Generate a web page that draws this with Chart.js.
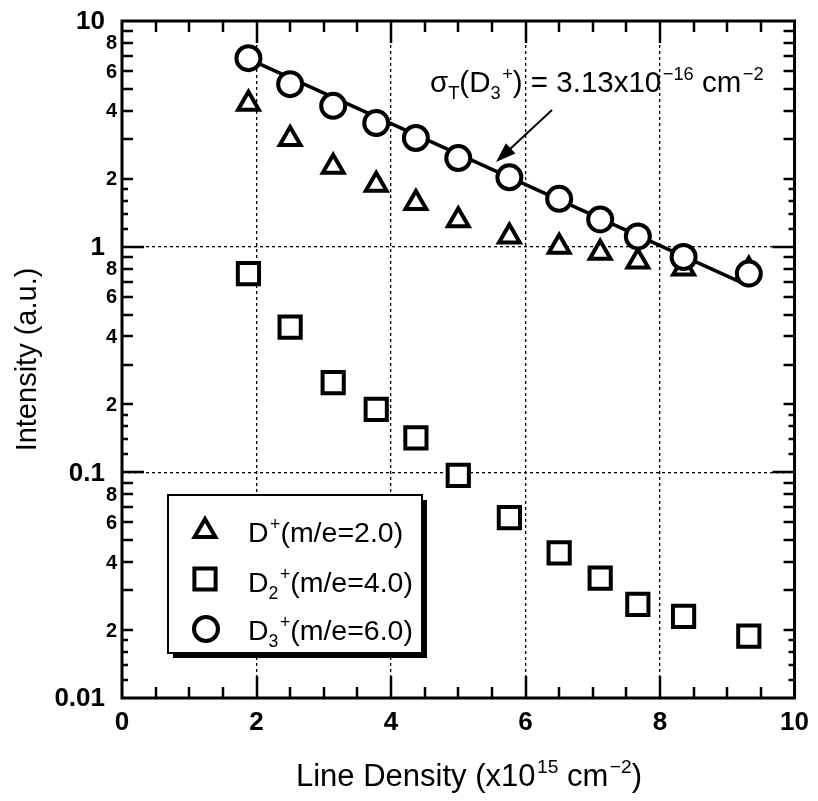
<!DOCTYPE html>
<html>
<head>
<meta charset="utf-8">
<script src="https://cdn.jsdelivr.net/npm/chart.js@4.4.1/dist/chart.umd.min.js"></script>
<style>
  html, body { margin: 0; padding: 0; background: #fff; }
</style>
</head>
<body>
<canvas id="chart" width="818" height="801"></canvas>
<script>
// values
const lineDensity = [1.88, 2.50, 3.14, 3.78, 4.37, 5.00, 5.76, 6.50, 7.11, 7.67, 8.35, 9.32];
const dPlus  = [4.3, 3.0, 2.26, 1.88, 1.56, 1.31, 1.11, 1.00, 0.94, 0.86, 0.80, 0.79];
const d2Plus = [0.76, 0.44, 0.25, 0.19, 0.142, 0.097, 0.063, 0.044, 0.034, 0.026, 0.023, 0.0188];
const d3Plus = [6.84, 5.25, 4.21, 3.53, 3.03, 2.47, 2.03, 1.63, 1.32, 1.11, 0.90, 0.76];
const fitX = [1.88, 9.32];
const fitY = [6.8, 0.67];

const xTickLabels = [0, 2, 4, 6, 8, 10];
const yMajorTicks = [0.01, 0.1, 1, 10];
const yMinorLabels = [2, 4, 6, 8];
const yDecades = [0.01, 0.1, 1];

const FONT = "'Liberation Sans', Arial, Helvetica, sans-serif";

const toPoints = (xs, ys) => xs.map((x, i) => ({ x: x, y: ys[i] }));

/* -------------------- TEXT HELPERS -------------------- */

// parts: [{t, sup, sub}] drawn one after another
function richText(ctx, parts, x, y, size, weight, draw) {
    let cx = x;
    parts.forEach(p => {
        const s = (p.sup || p.sub) ? size * 0.62 : size;
        ctx.font = `${weight} ${s}px ${FONT}`;
        const dy = p.sup ? -size * 0.42 : (p.sub ? size * 0.24 : 0);
        if (p.sup) cx += 1.5;
        if (draw) ctx.fillText(p.t, cx, y + dy);
        cx += ctx.measureText(p.t).width;
    });
    return cx - x;
}

function marker(ctx, style, x, y, r) {
    ctx.beginPath();
    if (style === 'circle') {
        ctx.arc(x, y, r, 0, Math.PI * 2);
    } else if (style === 'rect') {
        const s = r * Math.SQRT1_2;
        ctx.rect(x - s, y - s, 2 * s, 2 * s);
    } else {
        for (let k = 0; k < 3; k++) {
            const a = k * 2 * Math.PI / 3;
            const px = x + Math.sin(a) * r, py = y - Math.cos(a) * r;
            k === 0 ? ctx.moveTo(px, py) : ctx.lineTo(px, py);
        }
        ctx.closePath();
    }
    ctx.fill();
    ctx.stroke();
}

/* -------------------- DECORATION PLUGIN -------------------- */

const decor = {
    id: 'decor',
    beforeDraw(chart) {
        const ctx = chart.ctx;
        ctx.save();
        ctx.fillStyle = '#fff';
        ctx.fillRect(0, 0, chart.width, chart.height);
        ctx.restore();
    },
    afterDraw(chart) {
        const ctx = chart.ctx;
        const { left, right, top, bottom } = chart.chartArea;
        const xs = chart.scales.x, ys = chart.scales.y;
        ctx.save();
        ctx.strokeStyle = '#000';
        ctx.fillStyle = '#000';

        // inward tick marks
        ctx.lineWidth = 2.5;
        ctx.beginPath();
        for (let v = 0.5; v < 10; v += 0.5) {
            const px = Math.round(xs.getPixelForValue(v));
            const len = (v % 2 === 0) ? 22 : 11;
            ctx.moveTo(px, bottom); ctx.lineTo(px, bottom - len);
            ctx.moveTo(px, top); ctx.lineTo(px, top + len);
        }
        yDecades.forEach(d => {
            [1, 1.2, 1.4, 1.6, 1.8, 2, 3, 4, 5, 6, 7, 8, 9].forEach(m => {
                if (d === 0.01 && m === 1) return;
                const py = Math.round(ys.getPixelForValue(d * m));
                const len = m === 1 ? 22 : (m < 2 ? 6 : 11);
                ctx.moveTo(left, py); ctx.lineTo(left + len, py);
                ctx.moveTo(right, py); ctx.lineTo(right - len, py);
            });
        });
        ctx.stroke();

        // frame
        ctx.lineWidth = 3;
        ctx.strokeRect(left, top, right - left, bottom - top);

        // y tick labels
        ctx.textAlign = 'right';
        ctx.textBaseline = 'middle';
        ctx.font = `bold 26px ${FONT}`;
        yMajorTicks.forEach(v => {
            ctx.fillText(String(v), 105, ys.getPixelForValue(v) + 1);
        });
        ctx.font = `bold 20px ${FONT}`;
        yDecades.forEach(d => {
            yMinorLabels.forEach(m => {
                ctx.fillText(String(m), 117, ys.getPixelForValue(d * m) + 1);
            });
        });

        // y title
        ctx.save();
        ctx.translate(36, (top + bottom) / 2);
        ctx.rotate(-Math.PI / 2);
        ctx.textAlign = 'center';
        ctx.textBaseline = 'alphabetic';
        ctx.font = `29px ${FONT}`;
        ctx.fillText('Intensity (a.u.)', 0, 0);
        ctx.restore();

        // x title
        ctx.textAlign = 'left';
        ctx.textBaseline = 'alphabetic';
        const xTitle = [
            { t: 'Line Density (x10' }, { t: '15', sup: true },
            { t: ' cm' }, { t: '\u22122', sup: true }, { t: ')' }
        ];
        const wT = richText(ctx, xTitle, 0, 0, 31, 'normal', false);
        richText(ctx, xTitle, 469 - wT / 2, 786, 31, 'normal', true);

        // cross-section annotation
        const note = [
            { t: '\u03c3' }, { t: 'T', sub: true }, { t: '(D' }, { t: '3', sub: true },
            { t: '+', sup: true }, { t: ') = 3.13x10' }, { t: '\u221216', sup: true },
            { t: ' cm' }, { t: '\u22122', sup: true }
        ];
        richText(ctx, note, 430, 92, 29.5, 'normal', true);

        // arrow
        const ax0 = 552, ay0 = 110, ax1 = 496, ay1 = 162;
        const ang = Math.atan2(ay1 - ay0, ax1 - ax0);
        ctx.lineWidth = 2;
        ctx.beginPath();
        ctx.moveTo(ax0, ay0);
        ctx.lineTo(ax1 - Math.cos(ang) * 10, ay1 - Math.sin(ang) * 10);
        ctx.stroke();
        ctx.beginPath();
        ctx.moveTo(ax1, ay1);
        ctx.lineTo(ax1 - Math.cos(ang) * 20 + Math.sin(ang) * 7, ay1 - Math.sin(ang) * 20 - Math.cos(ang) * 7);
        ctx.lineTo(ax1 - Math.cos(ang) * 20 - Math.sin(ang) * 7, ay1 - Math.sin(ang) * 20 + Math.cos(ang) * 7);
        ctx.closePath();
        ctx.fill();

        // legend box with shadow
        const lx = 168, ly = 495, lw = 254, lh = 158;
        ctx.fillStyle = '#000';
        ctx.fillRect(lx + 5, ly + 5, lw, lh);
        ctx.fillStyle = '#fff';
        ctx.fillRect(lx, ly, lw, lh);
        ctx.lineWidth = 2;
        ctx.strokeRect(lx, ly, lw, lh);

        ctx.lineWidth = 4;
        ctx.strokeStyle = '#000';
        ctx.fillStyle = '#fff';
        marker(ctx, 'triangle', 205, 531, 12);
        marker(ctx, 'rect', 205, 579, 15);
        marker(ctx, 'circle', 206, 629, 12);

        ctx.fillStyle = '#000';
        richText(ctx, [{ t: 'D' }, { t: '+', sup: true }, { t: '(m/e=2.0)' }], 248, 542, 28.5, 'normal', true);
        richText(ctx, [{ t: 'D' }, { t: '2', sub: true }, { t: '+', sup: true }, { t: '(m/e=4.0)' }], 248, 592, 28.5, 'normal', true);
        richText(ctx, [{ t: 'D' }, { t: '3', sub: true }, { t: '+', sup: true }, { t: '(m/e=6.0)' }], 248, 640, 28.5, 'normal', true);

        ctx.restore();
    }
};

/* -------------------- CHART -------------------- */

const pointBase = {
    showLine: false,
    backgroundColor: '#fff',
    borderColor: '#000',
    borderWidth: 4,
    pointBackgroundColor: '#fff',
    pointBorderColor: '#000',
    pointBorderWidth: 4
};

new Chart(document.getElementById('chart'), {
    type: 'scatter',
    data: {
        datasets: [
            {
                label: 'fit',
                data: toPoints(fitX, fitY),
                showLine: true,
                borderColor: '#000',
                borderWidth: 3.5,
                pointRadius: 0,
                order: 3
            },
            Object.assign({}, pointBase, {
                label: 'D+ (m/e=2.0)',
                data: toPoints(lineDensity, dPlus),
                pointStyle: 'triangle',
                pointRadius: 12,
                order: 2
            }),
            Object.assign({}, pointBase, {
                label: 'D2+ (m/e=4.0)',
                data: toPoints(lineDensity, d2Plus),
                pointStyle: 'rect',
                pointRadius: 15,
                order: 1
            }),
            Object.assign({}, pointBase, {
                label: 'D3+ (m/e=6.0)',
                data: toPoints(lineDensity, d3Plus),
                pointStyle: 'circle',
                pointRadius: 12,
                order: 0
            })
        ]
    },
    options: {
        responsive: false,
        animation: false,
        layout: { padding: { top: 21, right: 19, left: 0, bottom: 0 } },
        plugins: {
            legend: { display: false },
            tooltip: { enabled: false }
        },
        scales: {
            x: {
                type: 'linear',
                min: 0,
                max: 10,
                afterBuildTicks: s => { s.ticks = xTickLabels.map(v => ({ value: v })); },
                afterFit: s => { s.height = 103; },
                grid: {
                    drawTicks: false,
                    lineWidth: 1.3,
                    color: c => (c.tick && c.tick.value > 0 && c.tick.value < 10) ? '#000' : 'rgba(0,0,0,0)'
                },
                border: { display: false, dash: [3, 3] },
                ticks: {
                    autoSkip: false,
                    maxRotation: 0,
                    color: '#000',
                    padding: 9,
                    font: { family: FONT, size: 26, weight: 'bold' }
                }
            },
            y: {
                type: 'logarithmic',
                min: 0.01,
                max: 10,
                afterBuildTicks: s => { s.ticks = yMajorTicks.map(v => ({ value: v })); },
                afterFit: s => { s.width = 122; },
                grid: {
                    drawTicks: false,
                    lineWidth: 1.3,
                    color: c => (c.tick && (c.tick.value === 0.1 || c.tick.value === 1)) ? '#000' : 'rgba(0,0,0,0)'
                },
                border: { display: false, dash: [3, 3] },
                ticks: { display: false }
            }
        }
    },
    plugins: [decor]
});
</script>
</body>
</html>
